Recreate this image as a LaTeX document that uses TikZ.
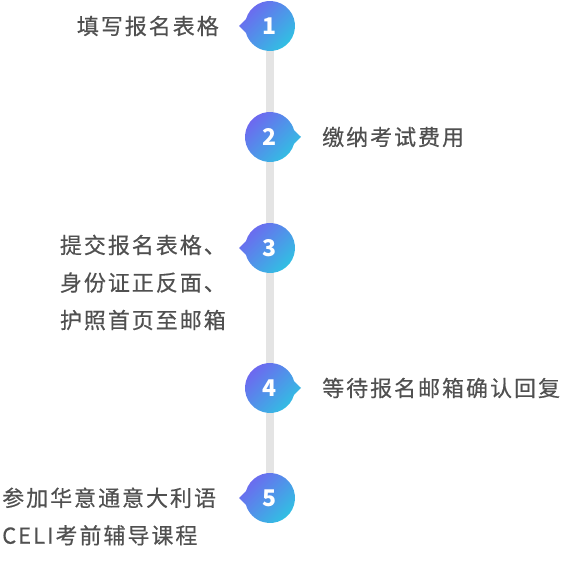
\documentclass[tikz,border=0pt]{standalone}
\usepackage{fontspec}
\usetikzlibrary{calc,backgrounds}
\setmainfont{Noto Sans CJK SC}
\newfontfamily\cjk{Noto Sans CJK SC}[LetterSpace=9,FakeBold=0.4]
\definecolor{txtgray}{HTML}{505050}
\definecolor{trackgray}{HTML}{E4E4E4}
\definecolor{bubtop}{HTML}{7064F0}
\definecolor{bubbot}{HTML}{2EC4E2}

% bubble with pointer on the left / right
\newcommand{\bubL}[1]{\shade[bubble]($(#1)+(196:25)$)--($(#1)+(-31,0)$)--($(#1)+(164:25)$)
    arc[start angle=164,end angle=-164,radius=25]--cycle;}
\newcommand{\bubR}[1]{\shade[bubble]($(#1)+(16:25)$)--($(#1)+(31,0)$)--($(#1)+(-16:25)$)
    arc[start angle=-16,end angle=-344,radius=25]--cycle;}

\begin{document}
\begin{tikzpicture}[x=1pt,y=1pt,
    bubble/.style={top color=bubtop,bottom color=bubbot,shading angle=45},
    num/.style={circle,minimum size=50pt,inner sep=0pt,text=white,font=\fontsize{23}{23}\selectfont\bfseries},
    lbl/.style={inner sep=0pt,text=txtgray,font=\cjk\fontsize{22}{37.5}\selectfont},
    track/.style={draw=trackgray,line width=8.5pt}]
    \useasboundingbox (0,0) rectangle (563,570);

    \node[num](s1)at(270,544){1};
    \node[num](s2)at(270,433){2};
    \node[num](s3)at(270,322){3};
    \node[num](s4)at(270,182){4};
    \node[num](s5)at(270,72){5};

    \begin{scope}[on background layer]
        \draw[track](s1.center)--(s5.center);
        \bubL{s1.center}
        \bubR{s2.center}
        \bubL{s3.center}
        \bubR{s4.center}
        \bubL{s5.center}
    \end{scope}

    \node[lbl,anchor=east](t1)at(219,544){填写报名表格};
    \node[lbl,anchor=west](t2)at(322,433){缴纳考试费用};
    \node[lbl,anchor=east,align=right](t3)at(226,287.5){提交报名表格、\\身份证正反面、\\护照首页至邮箱};
    \node[lbl,anchor=west](t4)at(322,182){等待报名邮箱确认回复};
    \node[lbl,anchor=west,align=left](t5)at(2,53.5){参加华意通意大利语\\CELI考前辅导课程};
\end{tikzpicture}
\end{document}
